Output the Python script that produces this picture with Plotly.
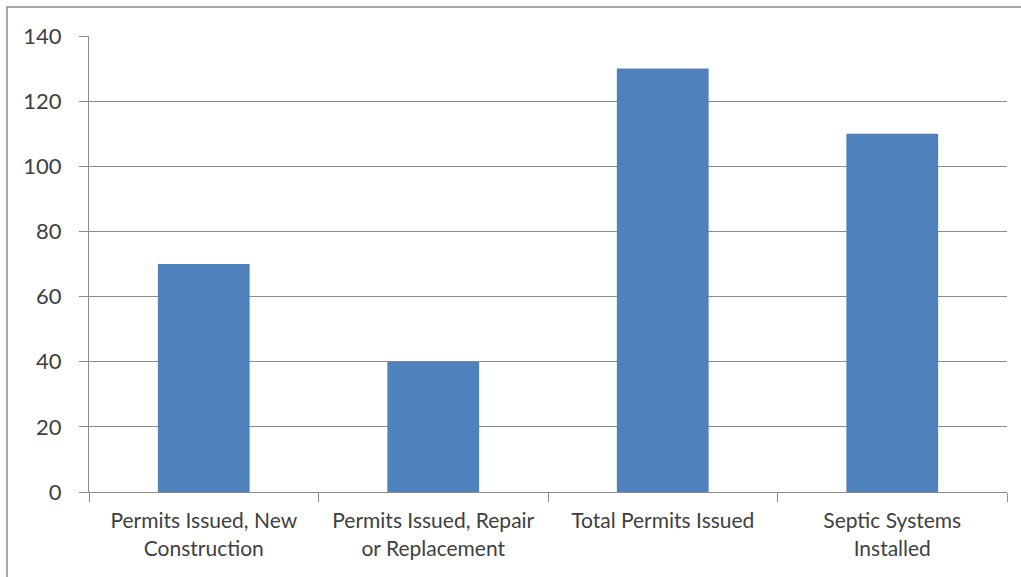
import plotly.graph_objects as go

categories = ["Permits Issued, New<br>Construction",
              "Permits Issued, Repair<br>or Replacement",
              "Total Permits Issued",
              "Septic Systems<br>Installed"]
values = [70, 40, 130, 110]
y_ticks = [0, 20, 40, 60, 80, 100, 120, 140]

W, H = 1021, 577
L, R, T, B = 89, 14, 36, 85
pw, ph = W - L - R, H - T - B

fig = go.Figure(go.Bar(x=categories, y=values, marker_color="#4F81BD",
                       marker_line_width=0, width=0.4))

grid = "#8c8c8c"
font = dict(family="Lato, Open Sans, sans-serif", color="#404040")

fig.update_layout(
    width=W, height=H,
    margin=dict(l=L, r=R, t=T, b=B),
    plot_bgcolor="white", paper_bgcolor="white",
    showlegend=False,
    bargap=0.6,
    xaxis=dict(showline=True, linecolor=grid, linewidth=1.3,
               ticks="outside", tickson="boundaries", ticklen=9,
               tickcolor=grid, tickwidth=1.3,
               tickfont=dict(size=21, **font), ticklabelstandoff=10,
               showgrid=False),
    yaxis=dict(range=[0, 140], tickvals=y_ticks, showline=True,
               linecolor=grid, linewidth=1.3, ticks="outside", ticklen=9,
               tickcolor=grid, tickwidth=1.3, gridcolor=grid, gridwidth=1.3,
               tickfont=dict(size=22, **font), ticklabelstandoff=13,
               zeroline=False),
    shapes=[dict(type="rect", xref="paper", yref="paper",
                 x0=(7 - L) / pw, x1=1.2, y0=-0.4, y1=1 + (T - 7) / ph,
                 line=dict(color="#8c8c8c", width=1.5), layer="below")],
)

fig.write_html("out.html", config={"displayModeBar": False},
               post_script="document.body.style.margin='0';")
